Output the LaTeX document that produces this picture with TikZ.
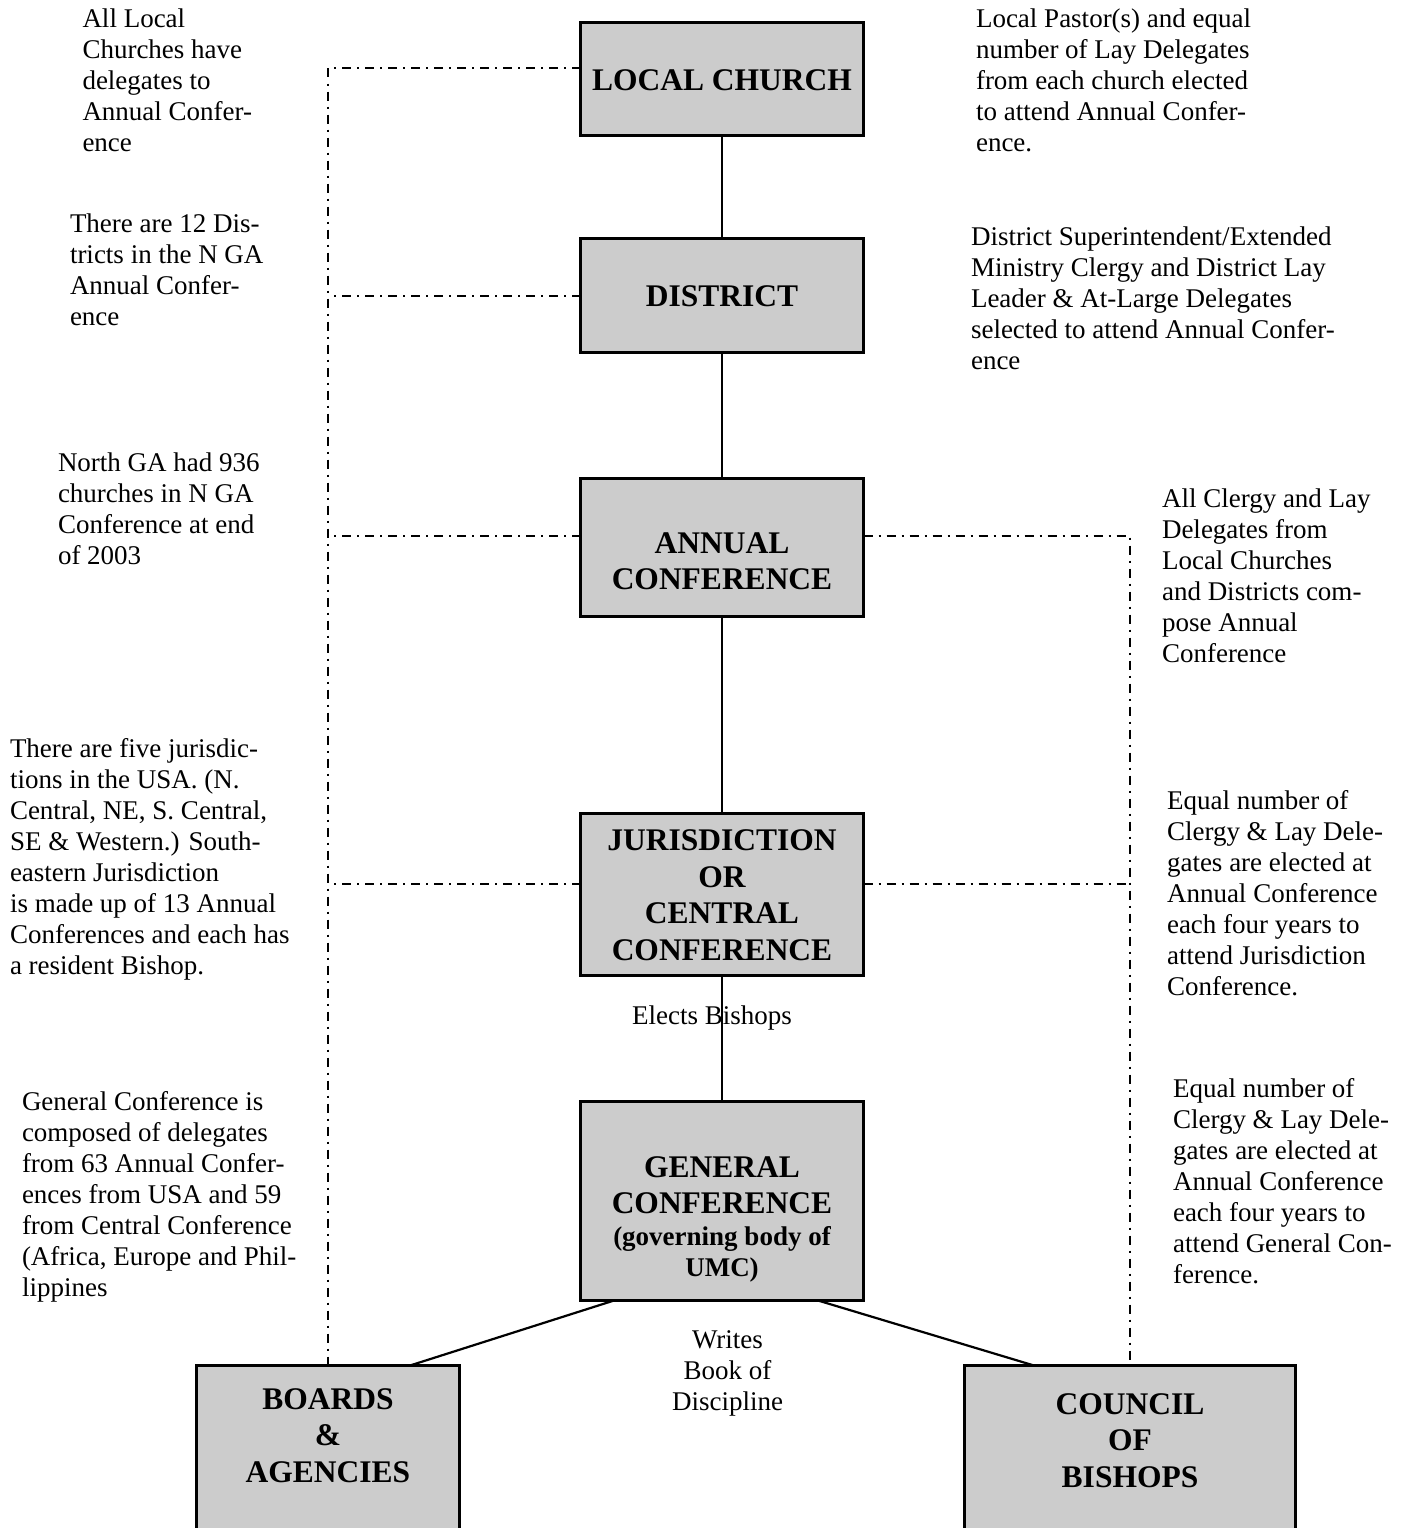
\documentclass[tikz,border=0pt]{standalone}
\usepackage{fontspec}
\setmainfont{Liberation Serif}
\definecolor{boxgray}{RGB}{204,204,204}
\begin{document}
\begin{tikzpicture}[x=1pt,y=-1pt,
  every node/.style={inner sep=0pt, outer sep=0pt},
  ubox/.style={draw=black, line width=3pt, fill=boxgray, rectangle, minimum width=283pt},
  body/.style={font=\fontsize{27}{31}\selectfont, align=left, anchor=north west},
  bodyc/.style={font=\fontsize{27}{31}\selectfont, align=center, anchor=north},
  title/.style={font=\fontsize{31.5}{36.5}\selectfont\bfseries, align=center, anchor=north},
  subtitle/.style={font=\fontsize{27}{31}\selectfont\bfseries, align=center, anchor=north},
  link/.style={line width=2.2pt},
  dd/.style={line width=2pt, dash pattern=on 9pt off 6pt on 2pt off 6pt}]
\useasboundingbox (0,0) rectangle (1404,1528);
\clip (0,0) rectangle (1404,1528);

% boxes
\node[ubox, minimum height=113pt] (local) at (722,79) {};
\node[ubox, minimum height=114pt] (district) at (722,295.5) {};
\node[ubox, minimum height=138pt] (annual) at (722,547.5) {};
\node[ubox, minimum height=162pt] (juris) at (722,894.5) {};
\node[ubox, minimum height=199pt] (general) at (722,1201) {};
\node[ubox, minimum width=263pt, minimum height=200pt] (boards) at (328,1465.5) {};
\node[ubox, minimum width=331pt, minimum height=200pt] (council) at (1130,1465.5) {};

% box labels
\node[title] (localT) at (722,65.15) {\strut LOCAL CHURCH};
\node[title] (districtT) at (722,280.95) {\strut DISTRICT};
\node[title] (annualT) at (722,527.45) {\strut ANNUAL\\CONFERENCE};
\node[title] (jurisT) at (722,824.95) {\strut JURISDICTION\\OR\\CENTRAL\\CONFERENCE};
\node[title] (generalT) at (722,1151.45) {\strut GENERAL\\CONFERENCE};
\node[subtitle] (generalS) at (722,1223.3) {\strut (governing body of\\UMC)};
\node[title] (boardsT) at (328,1383.45) {\strut BOARDS\\\&\\AGENCIES};
\node[title] (councilT) at (1130,1388.45) {\strut COUNCIL\\OF\\BISHOPS};

% centre labels
\node[bodyc] (elects) at (712,1002.3) {\strut Elects Bishops};
\node[bodyc] (writes) at (727.5,1326.3) {\strut Writes\\Book of\\Discipline};

% solid connectors
\draw[link] (local) -- (district);
\draw[link] (district) -- (annual);
\draw[link] (annual) -- (juris);
\draw[link] (juris) -- (general);
\draw[link] ([xshift=33.5pt]general.south west) -- ([xshift=-49.5pt]boards.north east);
\draw[link] ([xshift=-45.5pt]general.south east) -- ([xshift=69.5pt]council.north west);

% dash-dot connectors
\draw[dd] ([yshift=11pt]local.west) -| (boards.north);
\draw[dd] (district.west) -- (district.west -| boards.north);
\draw[dd] ([yshift=11.5pt]annual.west) -- ([yshift=11.5pt]annual.west -| boards.north);
\draw[dd] ([yshift=10.5pt]juris.west) -- ([yshift=10.5pt]juris.west -| boards.north);
\draw[dd] ([yshift=11.5pt]annual.east) -| (council.north);
\draw[dd] ([yshift=10.5pt]juris.east) -- ([yshift=10.5pt]juris.east -| council.north);

% left notes
\node[body] (l1) at (82.5,5.3) {\strut All Local\\Churches have\\delegates to\\Annual Confer-\\ence};
\node[body] (l2) at (70,210.3) {\strut There are 12 Dis-\\tricts in the N GA\\Annual Confer-\\ence};
\node[body] (l3) at (58,449.3) {\strut North GA had 936\\churches in N GA\\Conference at end\\of 2003};
\node[body] (l4) at (10,735.3) {\strut There are five jurisdic-\\tions in the USA. (N.\\Central, NE, S. Central,\\SE \& Western.) South-\\eastern Jurisdiction\\is made up of 13 Annual\\Conferences and each has\\a resident Bishop.};
\node[body] (l5) at (22,1088.3) {\strut General Conference is\\composed of delegates\\from 63 Annual Confer-\\ences from USA and 59\\from Central Conference\\(Africa, Europe and Phil-\\lippines};

% right notes
\node[body] (r1) at (976,5.3) {\strut Local Pastor(s) and equal\\number of Lay Delegates\\from each church elected\\to attend Annual Confer-\\ence.};
\node[body] (r2) at (971,223.3) {\strut District Superintendent/Extended\\Ministry Clergy and District Lay\\Leader \& At-Large Delegates\\selected to attend Annual Confer-\\ence};
\node[body] (r3) at (1162,485.3) {\strut All Clergy and Lay\\Delegates from\\Local Churches\\and Districts com-\\pose Annual\\Conference};
\node[body] (r4) at (1167,787.3) {\strut Equal number of\\Clergy \& Lay Dele-\\gates are elected at\\Annual Conference\\each four years to\\attend Jurisdiction\\Conference.};
\node[body] (r5) at (1173,1075.3) {\strut Equal number of\\Clergy \& Lay Dele-\\gates are elected at\\Annual Conference\\each four years to\\attend General Con-\\ference.};
\end{tikzpicture}
\end{document}
